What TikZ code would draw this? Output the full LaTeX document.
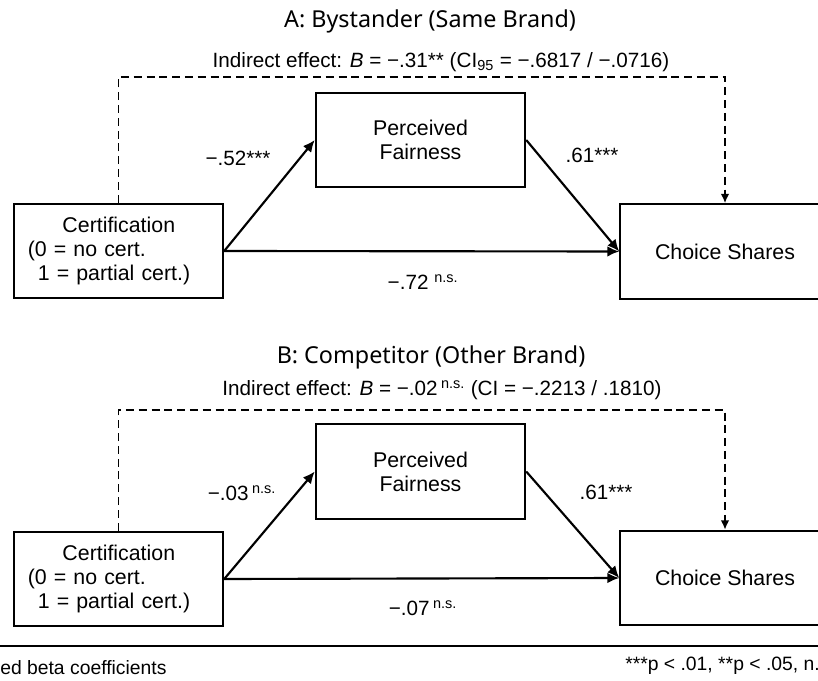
\documentclass[tikz,border=0pt]{standalone}
\usepackage{fontspec}
\setmainfont{Liberation Sans}
\newfontfamily\titlefont{Noto Sans}
\usetikzlibrary{arrows.meta}
\begin{document}
\begin{tikzpicture}[x=0.75pt,y=-0.75pt,
        box/.style={draw,line width=1.6pt,minimum width=157pt,minimum height=71pt,inner sep=0pt,font=\fontsize{16}{18}\selectfont},
        effect/.style={line width=1.6pt,-{Latex[length=9pt,width=8pt]}},
        indirect/.style={line width=1.1pt,dash pattern=on 6pt off 3.6pt,-{Latex[length=7pt,width=6.5pt]}},
        coef/.style={font=\fontsize{15.5}{18}\selectfont},
        heading/.style={font=\titlefont\fontsize{17.5}{20}\selectfont},
        note/.style={anchor=west,inner sep=0pt,font=\fontsize{14.5}{16}\selectfont}]
        \useasboundingbox (0,0) rectangle (818,681);
        \clip (0,0) rectangle (818,681);
        % panel A
        \node[heading] (titleA) at (430,21) {A: Bystander (Same Brand)};
        \node[coef] (indA) at (441,62) {Indirect effect: \textit{B} = −.31** (CI\textsubscript{95} = −.6817 / −.0716)};
        \coordinate (lineA) at (0,77);
        \node[box,text width=136pt,align=left,inner xsep=10.5pt] (certA) at (118.5,251) {\hspace*{26pt}Certification\\(0 = no cert.\\\hspace*{7.5pt}1 = partial cert.)};
        \node[box,align=center] (fairA) at (420.5,140) {Perceived\\Fairness};
        \node[box] (choiceA) at (725,251.5) {Choice Shares};
        \draw[effect] (certA.east) -- (fairA.west);
        \draw[effect] (fairA.east) -- (choiceA.west);
        \draw[effect] (certA.east) -- (choiceA.west);
        \draw[indirect] (certA.north) -- (certA.north |- lineA) -- (choiceA.north |- lineA) -- (choiceA.north);
        \node[coef] (aA) at (238,158) {−.52***};
        \node[coef] (bA) at (592,155) {.61***};
        \node[coef] (cA) at (423,282) {−.72 \textsuperscript{n.s.}};
        % panel B
        \node[heading] (titleB) at (431,357) {B: Competitor (Other Brand)};
        \node[coef] (indB) at (442,390) {Indirect effect: \textit{B} = −.02\,\textsuperscript{n.s.} (CI = −.2213 / .1810)};
        \coordinate (lineB) at (0,410);
        \node[box,text width=136pt,align=left,inner xsep=10.5pt] (certB) at (118.5,579) {\hspace*{26pt}Certification\\(0 = no cert.\\\hspace*{7.5pt}1 = partial cert.)};
        \node[box,align=center] (fairB) at (420.5,471.5) {Perceived\\Fairness};
        \node[box] (choiceB) at (725,578) {Choice Shares};
        \draw[effect] (certB.east) -- (fairB.west);
        \draw[effect] (fairB.east) -- (choiceB.west);
        \draw[effect] (certB.east) -- (choiceB.west);
        \draw[indirect] (certB.north) -- (certB.north |- lineB) -- (choiceB.north |- lineB) -- (choiceB.north);
        \node[coef] (aB) at (242,493) {−.03\,\textsuperscript{n.s.}};
        \node[coef] (bB) at (606,492) {.61***};
        \node[coef] (cB) at (423,608) {−.07\,\textsuperscript{n.s.}};
        % footer
        \draw[line width=1.6pt] (0,646) -- (818,646);
        \node[note] (noteL) at (0,668) {ed beta coefficients};
        \node[note] (noteR) at (625,666) {***p < .01, **p < .05, n.s.};
\end{tikzpicture}
\end{document}
